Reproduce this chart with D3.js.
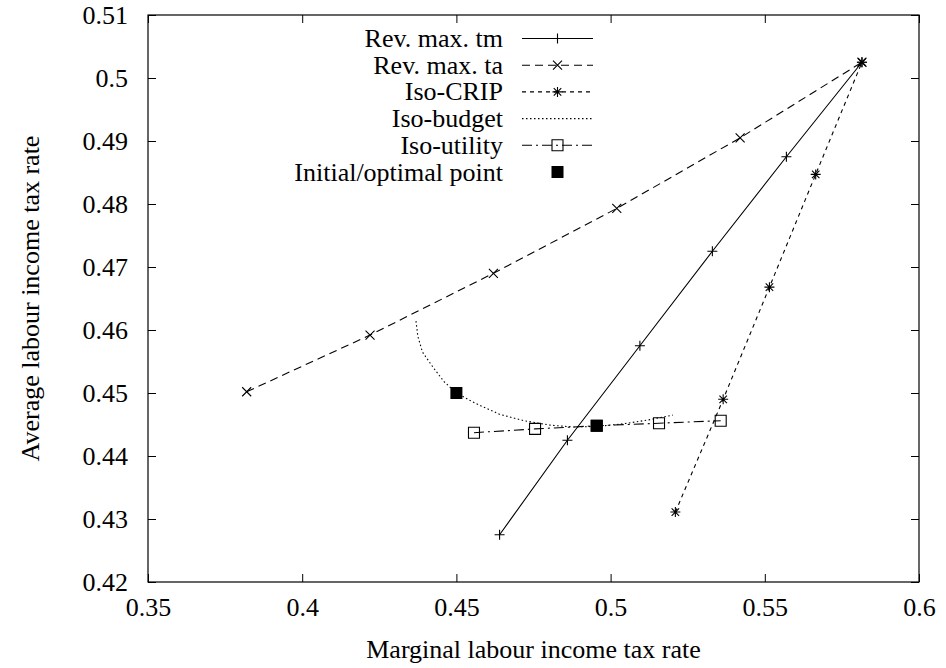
<!DOCTYPE html>
<html>
<head>
<meta charset="utf-8">
<script src="https://cdn.jsdelivr.net/npm/d3@7"></script>
<style>
  body { margin: 0; background: #fff; }
  svg text { font-family: "Liberation Serif", "Times New Roman", serif; fill: #000; }
</style>
</head>
<body>
<svg id="chart" width="946" height="668"></svg>
<script>
// values
const tmX = [0.464, 0.486, 0.5095, 0.533, 0.557, 0.5815];
const tmY = [0.4275, 0.4425, 0.4575, 0.4725, 0.4875, 0.5025];

const taX = [0.382, 0.422, 0.462, 0.502, 0.542, 0.5815];
const taY = [0.4502, 0.4592, 0.4690, 0.4793, 0.4905, 0.5025];

const crX = [0.521, 0.5365, 0.5515, 0.5665, 0.5815];
const crY = [0.4311, 0.4490, 0.4668, 0.4847, 0.5025];

const budX = [0.4369, 0.4375, 0.4390, 0.4424, 0.4460, 0.4500, 0.4560, 0.4641, 0.4720, 0.4804, 0.4880, 0.4955, 0.5040, 0.5120, 0.5202];
const budY = [0.4614, 0.4590, 0.4565, 0.4541, 0.4518, 0.4500, 0.4484, 0.4466, 0.4456, 0.4449, 0.4446, 0.4447, 0.4451, 0.4457, 0.4465];

const utX = [0.4557, 0.4755, 0.4955, 0.5157, 0.5357];
const utY = [0.4437, 0.4443, 0.4448, 0.4452, 0.4456];

const ptX = [0.4500, 0.4955];
const ptY = [0.4500, 0.4448];

const xTicks = [0.35, 0.4, 0.45, 0.5, 0.55, 0.6];
const yTicks = [0.42, 0.43, 0.44, 0.45, 0.46, 0.47, 0.48, 0.49, 0.5, 0.51];

const legendLabels = ['Rev. max. tm', 'Rev. max. ta', 'Iso-CRIP', 'Iso-budget', 'Iso-utility', 'Initial/optimal point'];

const mLeft = 148, mRight = 919, mTop = 15, mBottom = 582;
const fontSize = '26px';
const fontFam = '"Liberation Serif", "Times New Roman", serif';
const x = d3.scaleLinear().domain([0.35, 0.6]).range([mLeft, mRight]);
const y = d3.scaleLinear().domain([0.42, 0.51]).range([mBottom, mTop]);

const svg = d3.select('svg#chart');
const fmt = v => String(+v.toFixed(2));

// markers
const symPath = (type, s) => {
  if (type === 'plus') return `M${-s},0H${s}M0,${-s}V${s}`;
  if (type === 'cross') return `M${-s},${-s}L${s},${s}M${-s},${s}L${s},${-s}`;
  if (type === 'star') return `M${-s},0H${s}M0,${-s}V${s}M${-s*0.75},${-s*0.75}L${s*0.75},${s*0.75}M${-s*0.75},${s*0.75}L${s*0.75},${-s*0.75}`;
  if (type === 'box') return `M${-s},${-s}H${s}V${s}H${-s}Z`;
  return '';
};

const series = [
  {xs: tmX, ys: tmY, dash: null, sym: 'plus', size: 5},
  {xs: taX, ys: taY, dash: '8,5', sym: 'cross', size: 4.5},
  {xs: crX, ys: crY, dash: '4,4', sym: 'star', size: 5},
  {xs: budX, ys: budY, dash: '1.5,2.5', sym: null, size: 0},
  {xs: utX, ys: utY, dash: '10,4,2,4', sym: 'box', size: 5.5}
];

const styleText = g => g.selectAll('text').style('font-size', fontSize).style('font-family', fontFam);

// axes (ticks drawn inward, mirrored on top/right)
svg.append('g').attr('transform', `translate(0,${mBottom})`)
  .call(d3.axisBottom(x).tickValues(xTicks).tickFormat(fmt).tickSizeInner(-8).tickSizeOuter(0).tickPadding(16))
  .call(g => g.select('.domain').remove())
  .call(styleText);
svg.append('g').attr('transform', `translate(0,${mTop})`)
  .call(d3.axisTop(x).tickValues(xTicks).tickFormat('').tickSizeInner(-8).tickSizeOuter(0))
  .call(g => g.select('.domain').remove());
svg.append('g').attr('transform', `translate(${mLeft},0)`)
  .call(d3.axisLeft(y).tickValues(yTicks).tickFormat(fmt).tickSizeInner(-8).tickSizeOuter(0).tickPadding(20))
  .call(g => g.select('.domain').remove())
  .call(styleText);
svg.append('g').attr('transform', `translate(${mRight},0)`)
  .call(d3.axisRight(y).tickValues(yTicks).tickFormat('').tickSizeInner(-8).tickSizeOuter(0))
  .call(g => g.select('.domain').remove());

svg.append('rect')
  .attr('x', mLeft).attr('y', mTop)
  .attr('width', mRight - mLeft).attr('height', mBottom - mTop)
  .attr('fill', 'none').attr('stroke', '#000').attr('stroke-width', 1.2);

// axis titles
svg.append('text')
  .attr('x', (mLeft + mRight) / 2).attr('y', 658)
  .attr('text-anchor', 'middle').style('font-size', fontSize).style('font-family', fontFam)
  .text('Marginal labour income tax rate');
svg.append('text')
  .attr('transform', `translate(30,${(mTop + mBottom) / 2}) rotate(-90)`)
  .attr('text-anchor', 'middle').attr('dominant-baseline', 'central')
  .style('font-size', fontSize).style('font-family', fontFam)
  .text('Average labour income tax rate');

// series
const line = d3.line().x(d => x(d[0])).y(d => y(d[1]));
const plot = svg.append('g');
series.forEach(s => {
  const pts = s.xs.map((v, i) => [v, s.ys[i]]);
  plot.append('path')
    .attr('d', line(pts))
    .attr('fill', 'none').attr('stroke', '#000').attr('stroke-width', 1.1)
    .attr('stroke-dasharray', s.dash);
  if (s.sym) {
    plot.selectAll(null).data(pts).enter().append('path')
      .attr('transform', d => `translate(${x(d[0])},${y(d[1])})`)
      .attr('d', symPath(s.sym, s.size))
      .attr('fill', 'none').attr('stroke', '#000').attr('stroke-width', 1.1);
  }
});
plot.selectAll(null).data(ptX.map((v, i) => [v, ptY[i]])).enter().append('rect')
  .attr('x', d => x(d[0]) - 6).attr('y', d => y(d[1]) - 6)
  .attr('width', 12).attr('height', 12).attr('fill', '#000');

// legend
const lg = svg.append('g');
legendLabels.forEach((label, i) => {
  const ly = 38.5 + i * 26.7;
  lg.append('text')
    .attr('x', 503).attr('y', ly)
    .attr('text-anchor', 'end').attr('dominant-baseline', 'central')
    .style('font-size', fontSize).style('font-family', fontFam)
    .text(label);
  const s = series[i];
  if (s) {
    lg.append('line')
      .attr('x1', 522).attr('x2', 593).attr('y1', ly).attr('y2', ly)
      .attr('stroke', '#000').attr('stroke-width', 1.1)
      .attr('stroke-dasharray', s.dash);
    if (s.sym) {
      lg.append('path')
        .attr('transform', `translate(557.5,${ly})`)
        .attr('d', symPath(s.sym, s.size))
        .attr('fill', 'none').attr('stroke', '#000').attr('stroke-width', 1.1);
    }
  } else {
    lg.append('rect')
      .attr('x', 551.5).attr('y', ly - 6).attr('width', 12).attr('height', 12)
      .attr('fill', '#000');
  }
});
</script>
</body>
</html>
